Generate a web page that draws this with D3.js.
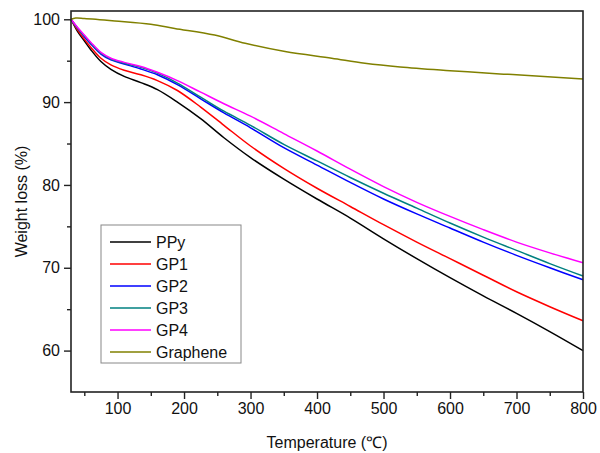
<!DOCTYPE html>
<html><head><meta charset="utf-8">
<script src="https://cdn.jsdelivr.net/npm/d3@7"></script>
<style>body{margin:0;background:#fff}svg{display:block;font-family:"Liberation Sans",Arial,sans-serif}</style>
</head><body><svg id="c" width="600" height="453"></svg>
<script>
const temps = [30,40,50,60,75,90,110,135,160,190,225,260,300,350,400,450,500,550,600,650,700,750,800];
const ppy = [100,98.5,97.4,96.3,94.9,93.95,93.1,92.35,91.5,90.0,88.0,85.7,83.3,80.7,78.3,76.0,73.5,71.1,68.8,66.6,64.5,62.3,60.0];
const gp1 = [100,98.7,97.6,96.6,95.3,94.5,93.85,93.3,92.6,91.4,89.4,87.2,84.7,82.0,79.6,77.4,75.2,73.1,71.1,69.1,67.1,65.3,63.6];
const gp2 = [100,98.9,97.9,97.0,95.8,95.1,94.6,94.0,93.3,92.1,90.4,88.7,86.9,84.5,82.4,80.3,78.3,76.5,74.8,73.1,71.5,70.0,68.55];
const gp3 = [100,98.9,98.0,97.1,95.9,95.2,94.7,94.2,93.5,92.3,90.6,88.9,87.2,84.9,82.9,80.9,79.0,77.2,75.4,73.7,72.1,70.5,69.0];
const gp4 = [100,99.0,98.1,97.2,96.0,95.3,94.8,94.3,93.6,92.6,91.2,89.8,88.3,86.2,84.1,81.9,79.8,77.9,76.2,74.6,73.1,71.8,70.6];
const grTemps = [30,37,50,96,150,186,246,292,352,422,472,525,600,675,700,800];
const graphene = [100.0,100.15,100.1,99.8,99.4,98.9,98.1,97.1,96.1,95.3,94.7,94.25,93.8,93.4,93.3,92.8];
const seriesNames = ["PPy","GP1","GP2","GP3","GP4","Graphene"];
const seriesColors = ["#000000","#ff0000","#0000ff","#008080","#ff00ff","#808000"];
const xTicks = [100,200,300,400,500,600,700,800];
const yTicks = [60,70,80,90,100];

const svg = d3.select("#c");
const L=71, R=583, T=11, B=392;
const x = d3.scaleLinear().domain([30,800]).range([L,R]);
const y = d3.scaleLinear().domain([55,101]).range([B,T]);

const series = [
  temps.map((t,i)=>[t,ppy[i]]),
  temps.map((t,i)=>[t,gp1[i]]),
  temps.map((t,i)=>[t,gp2[i]]),
  temps.map((t,i)=>[t,gp3[i]]),
  temps.map((t,i)=>[t,gp4[i]]),
  grTemps.map((t,i)=>[t,graphene[i]])
];
const line = d3.line().x(d=>x(d[0])).y(d=>y(d[1])).curve(d3.curveCatmullRom.alpha(0.5));
const g = svg.append("g");
series.forEach((s,i)=>{
  g.append("path").attr("d",line(s)).attr("fill","none").attr("stroke",seriesColors[i])
    .attr("stroke-width",1.5).attr("stroke-linejoin","round");
});

// frame
svg.append("rect").attr("x",L).attr("y",T).attr("width",R-L).attr("height",B-T)
  .attr("fill","none").attr("stroke","#222").attr("stroke-width",1.6);

// axes
const xAx = svg.append("g").attr("transform",`translate(0,${B})`)
  .call(d3.axisBottom(x).tickValues(xTicks).tickSize(7).tickSizeOuter(0).tickPadding(4));
const xMinor = svg.append("g").attr("transform",`translate(0,${B})`)
  .call(d3.axisBottom(x).tickValues([50,150,250,350,450,550,650,750]).tickSize(4).tickFormat("").tickSizeOuter(0));
const yAx = svg.append("g").attr("transform",`translate(${L},0)`)
  .call(d3.axisLeft(y).tickValues(yTicks).tickSize(7).tickSizeOuter(0).tickPadding(4));
const yMinor = svg.append("g").attr("transform",`translate(${L},0)`)
  .call(d3.axisLeft(y).tickValues([65,75,85,95]).tickSize(4).tickFormat("").tickSizeOuter(0));
[xAx,xMinor,yAx,yMinor].forEach(a=>{
  a.select(".domain").remove();
  a.selectAll("line").attr("stroke","#222").attr("stroke-width",1.4);
  a.selectAll("text").attr("font-size",16).attr("fill","#111").attr("font-family","'Liberation Sans',Arial,sans-serif");
});

svg.append("text").attr("x",(L+R)/2).attr("y",448).attr("text-anchor","middle")
  .attr("font-size",16).attr("fill","#111").text("Temperature (℃)");
svg.append("text").attr("transform",`translate(27,${(T+B)/2}) rotate(-90)`).attr("text-anchor","middle")
  .attr("font-size",16).attr("fill","#111").text("Weight loss (%)");

// legend
const lg = svg.append("g");
lg.append("rect").attr("x",101).attr("y",225).attr("width",140).attr("height",138)
  .attr("fill","#fff").attr("stroke","#888").attr("stroke-width",1);
seriesNames.forEach((n,i)=>{
  const yy = 242 + i*22;
  lg.append("line").attr("x1",110).attr("x2",151).attr("y1",yy).attr("y2",yy)
    .attr("stroke",seriesColors[i]).attr("stroke-width",1.5);
  lg.append("text").attr("x",156).attr("y",yy).attr("dy","0.36em").attr("font-size",16)
    .attr("fill","#111").text(n);
});
</script></body></html>
